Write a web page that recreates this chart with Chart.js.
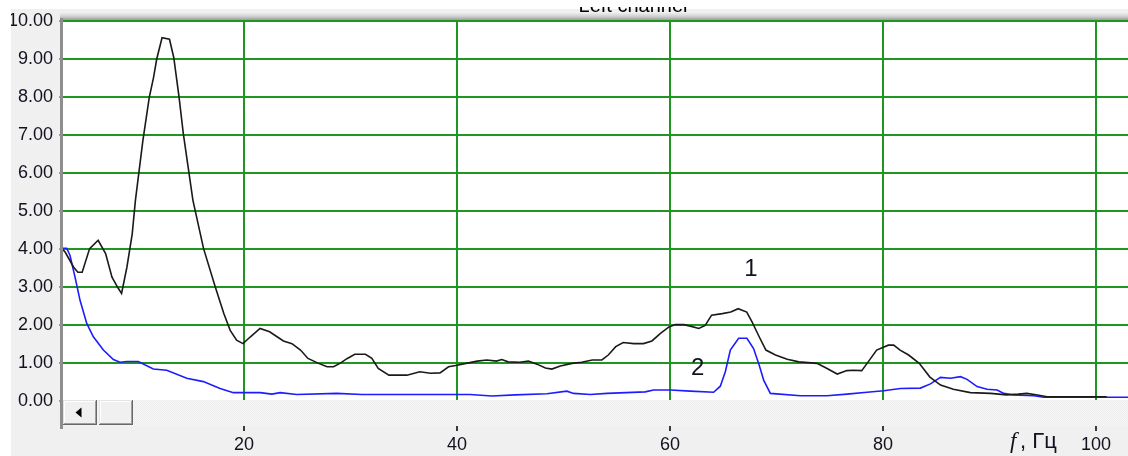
<!DOCTYPE html>
<html>
<head>
<meta charset="utf-8">
<script src="https://cdn.jsdelivr.net/npm/chart.js@4/dist/chart.umd.min.js"></script>
<style>
  html, body { margin: 0; padding: 0; background: #ffffff; overflow: hidden; }
  canvas { display: block; }
</style>
</head>
<body>
<canvas id="spectrum" width="1128" height="456"></canvas>
<script>
// Amplitude spectrum, [frequency Hz, amplitude] pairs
const series1 = [
  [3.0, 3.98], [3.2, 3.92], [4.0, 3.52], [4.4, 3.39], [4.8, 3.39], [5.5, 4.01], [6.3, 4.23],
  [7.0, 3.88], [7.6, 3.26], [8.2, 2.96], [8.5, 2.83], [9.0, 3.52], [9.5, 4.40], [9.8, 5.28],
  [10.5, 6.85], [11.1, 7.99], [11.5, 8.51], [11.8, 9.00], [12.3, 9.56], [13.0, 9.52],
  [13.4, 9.04], [13.9, 7.99], [14.3, 7.03], [15.2, 5.28], [16.2, 4.01], [17.3, 3.00],
  [18.1, 2.30], [18.7, 1.86], [19.3, 1.60], [19.9, 1.51], [20.6, 1.69], [21.5, 1.91],
  [22.4, 1.82], [23.1, 1.69], [23.7, 1.58], [24.5, 1.51], [25.3, 1.34], [26.0, 1.12],
  [27.0, 0.99], [27.8, 0.90], [28.4, 0.90], [29.0, 0.99], [29.7, 1.12], [30.4, 1.23],
  [31.4, 1.23], [32.0, 1.12], [32.6, 0.86], [33.6, 0.68], [35.3, 0.68], [36.5, 0.77],
  [37.5, 0.73], [38.4, 0.74], [39.2, 0.90], [40.0, 0.94], [41.2, 1.01], [41.9, 1.05],
  [42.8, 1.08], [43.7, 1.05], [44.2, 1.09], [44.8, 1.03], [45.9, 1.02], [46.7, 1.05],
  [47.5, 0.97], [48.3, 0.87], [48.9, 0.84], [49.7, 0.92], [50.8, 0.99], [51.7, 1.02],
  [52.7, 1.08], [53.6, 1.08], [54.2, 1.21], [54.9, 1.43], [55.6, 1.54], [56.6, 1.51],
  [57.5, 1.51], [58.3, 1.58], [59.1, 1.78], [59.9, 1.95], [60.5, 2.01], [61.3, 2.01],
  [61.9, 1.97], [62.7, 1.91], [63.3, 1.99], [63.9, 2.26], [64.9, 2.30], [65.7, 2.34],
  [66.4, 2.43], [67.2, 2.34], [67.7, 2.08], [68.3, 1.73], [69.0, 1.34], [69.9, 1.21],
  [71.0, 1.10], [72.1, 1.03], [73.8, 0.99], [74.7, 0.86], [75.7, 0.71], [76.6, 0.80],
  [77.2, 0.81], [78.0, 0.80], [78.5, 0.99], [79.4, 1.34], [80.5, 1.47], [81.0, 1.47],
  [81.6, 1.34], [82.4, 1.21], [83.4, 0.99], [84.4, 0.63], [85.4, 0.42], [86.6, 0.31],
  [88.2, 0.22], [90.1, 0.20], [91.6, 0.16], [92.7, 0.18], [93.5, 0.20], [94.5, 0.16],
  [95.4, 0.11], [101.0, 0.11]
];

const series2 = [
  [3.0, 4.02], [3.35, 4.02], [3.66, 3.83], [4.13, 3.26], [4.6, 2.65], [5.23, 2.04],
  [5.85, 1.69], [6.79, 1.34], [7.73, 1.09], [8.35, 1.02], [8.98, 1.04], [10.07, 1.04],
  [11.48, 0.84], [12.74, 0.81], [14.62, 0.60], [16.18, 0.51], [17.75, 0.33], [19.0, 0.22],
  [21.51, 0.22], [22.61, 0.18], [23.39, 0.22], [24.95, 0.17], [28.71, 0.20], [31.06, 0.17],
  [41.23, 0.17], [43.27, 0.13], [45.46, 0.16], [48.44, 0.19], [50.31, 0.26], [50.94, 0.20],
  [52.51, 0.17], [54.08, 0.20], [57.67, 0.24], [58.45, 0.29], [60.02, 0.29], [61.9, 0.26],
  [64.09, 0.23], [64.72, 0.39], [65.19, 0.77], [65.66, 1.34], [66.44, 1.65], [67.22, 1.65],
  [67.84, 1.38], [68.32, 0.99], [68.79, 0.55], [69.42, 0.20], [72.24, 0.14], [74.74, 0.14],
  [76.62, 0.18], [78.5, 0.23], [80.06, 0.27], [81.63, 0.33], [83.51, 0.34], [84.45, 0.45],
  [85.39, 0.62], [86.33, 0.60], [87.27, 0.64], [87.89, 0.57], [88.83, 0.38], [89.77, 0.31],
  [90.71, 0.29], [91.33, 0.20], [92.27, 0.16], [94.15, 0.14], [95.09, 0.10], [103.0, 0.10]
];

const xTicks = [20, 40, 60, 80, 100];
const yTicks = [0, 1, 2, 3, 4, 5, 6, 7, 8, 9, 10];
const seriesNames = ['1', '2'];
const seriesNameAt = [[67.6, 3.46], [62.6, 0.87]];
const panelTitle = 'Left channel';
const axisSymbol = 'f';
const axisUnit = ', Гц';

const FONT = "'Liberation Sans', Arial, sans-serif";
const TEXT = '#12121f';
const GRID = '#1f961f';

// track texture for the scroll bar
const trackPattern = (() => {
  const c = document.createElement('canvas');
  c.width = 2; c.height = 2;
  const g = c.getContext('2d');
  g.fillStyle = '#f9f9f9'; g.fillRect(0, 0, 2, 2);
  g.fillStyle = '#ebebeb'; g.fillRect(0, 0, 1, 1); g.fillRect(1, 1, 1, 1);
  return c;
})();

function drawButton(ctx, x, y, w, h) {
  ctx.fillStyle = '#f0f0f0'; ctx.fillRect(x, y, w, h);
  ctx.fillStyle = '#e3e3e3'; ctx.fillRect(x, y, w, 1); ctx.fillRect(x, y, 1, h);
  ctx.fillStyle = '#ffffff'; ctx.fillRect(x + 1, y + 1, w - 2, 1); ctx.fillRect(x + 1, y + 1, 1, h - 2);
  ctx.fillStyle = '#a0a0a0'; ctx.fillRect(x + 1, y + h - 2, w - 2, 1); ctx.fillRect(x + w - 2, y + 1, 1, h - 2);
  ctx.fillStyle = '#696969'; ctx.fillRect(x, y + h - 1, w, 1); ctx.fillRect(x + w - 1, y, 1, h);
}

const framePlugin = {
  id: 'frame',
  beforeDraw(chart) {
    const { ctx, chartArea: a, width, height } = chart;
    ctx.save();
    ctx.fillStyle = '#ffffff';
    ctx.fillRect(0, 0, width, height);
    ctx.fillStyle = '#f0f0f0';
    ctx.fillRect(11, 9, width - 11, height - 9);
    const g = ctx.createLinearGradient(0, 13, 0, 20);
    g.addColorStop(0, '#ececec');
    g.addColorStop(0.5, '#cfcfcf');
    g.addColorStop(1, '#9c9c9c');
    ctx.fillStyle = g;
    ctx.fillRect(60, 13, width - 60, 7);
    ctx.fillStyle = '#ffffff';
    ctx.fillRect(a.left, a.top - 1, a.right - a.left, a.bottom - a.top + 1);
    ctx.restore();
  },
  afterDraw(chart) {
    const { ctx, chartArea: a, width, height } = chart;
    const xs = chart.scales.x, ys = chart.scales.y;
    ctx.save();

    // horizontal scroll bar under the plot
    const sTop = a.bottom - 1, sH = 26;
    ctx.fillStyle = ctx.createPattern(trackPattern, 'repeat');
    ctx.fillRect(a.left, sTop, width - a.left, sH);
    drawButton(ctx, a.left, sTop, 34, sH - 1);
    drawButton(ctx, a.left + 36, sTop, 34, sH - 1);
    ctx.fillStyle = '#000000';
    ctx.beginPath();
    ctx.moveTo(a.left + 12.5, sTop + 12.5);
    ctx.lineTo(a.left + 18.5, sTop + 7.5);
    ctx.lineTo(a.left + 18.5, sTop + 17.5);
    ctx.closePath();
    ctx.fill();

    // vertical axis line
    ctx.fillStyle = '#8e8e8e';
    ctx.fillRect(60, 18, 3, 411);

    // left margin
    ctx.fillStyle = '#ffffff';
    ctx.fillRect(0, 0, 11, height);

    // panel title, partly hidden by the window edge
    ctx.save();
    ctx.beginPath();
    ctx.rect(0, 7, width, 7);
    ctx.clip();
    ctx.fillStyle = '#000000';
    ctx.font = `20px ${FONT}`;
    ctx.textAlign = 'center';
    ctx.textBaseline = 'alphabetic';
    ctx.fillText(panelTitle, 633, 12);
    ctx.restore();

    // frequency axis caption
    ctx.fillStyle = TEXT;
    ctx.textBaseline = 'alphabetic';
    ctx.textAlign = 'left';
    ctx.font = `italic 23px 'Liberation Serif', serif`;
    ctx.fillText(axisSymbol, 1010, 448);
    ctx.font = `22px ${FONT}`;
    ctx.fillText(axisUnit, 1020, 448);

    // curve numbers
    ctx.font = `24px ${FONT}`;
    ctx.textAlign = 'center';
    ctx.textBaseline = 'middle';
    seriesNames.forEach((name, i) => {
      const [fx, fy] = seriesNameAt[i];
      ctx.fillText(name, xs.getPixelForValue(fx), ys.getPixelForValue(fy));
    });

    ctx.restore();
  }
};

new Chart(document.getElementById('spectrum'), {
  type: 'line',
  data: {
    datasets: [
      {
        label: seriesNames[1],
        data: series2.map(([x, y]) => ({ x, y })),
        borderColor: '#1c1cff',
        borderWidth: 1.6,
        pointRadius: 0,
        tension: 0,
        order: 2
      },
      {
        label: seriesNames[0],
        data: series1.map(([x, y]) => ({ x, y })),
        borderColor: '#1a1a1a',
        borderWidth: 1.6,
        pointRadius: 0,
        tension: 0,
        order: 1
      }
    ]
  },
  options: {
    responsive: false,
    animation: false,
    devicePixelRatio: 1,
    layout: { padding: { top: 21, left: 0, right: 0, bottom: 0 } },
    plugins: {
      legend: { display: false },
      tooltip: { enabled: false },
      title: { display: false }
    },
    scales: {
      x: {
        type: 'linear',
        min: 3,
        max: 103,
        afterBuildTicks: (s) => { s.ticks = xTicks.map(v => ({ value: v })); },
        afterFit: (s) => { s.height = 55; },
        border: { display: false },
        grid: {
          color: GRID,
          lineWidth: 2,
          drawTicks: true,
          tickLength: 30,
          tickColor: '#3a3a3a',
          tickWidth: 2
        },
        ticks: {
          color: TEXT,
          padding: 3,
          maxRotation: 0,
          autoSkip: false,
          font: { family: FONT, size: 18 },
          callback: (v) => String(v)
        }
      },
      y: {
        type: 'linear',
        min: 0,
        max: 10,
        afterBuildTicks: (s) => { s.ticks = yTicks.map(v => ({ value: v })); },
        afterFit: (s) => { s.width = 63; },
        border: { display: false },
        grid: {
          color: GRID,
          lineWidth: 2,
          drawTicks: true,
          tickLength: 4,
          tickColor: '#4a4a4a',
          tickWidth: 1
        },
        ticks: {
          color: TEXT,
          padding: 6,
          autoSkip: false,
          font: { family: FONT, size: 18 },
          callback: (v) => Number(v).toFixed(2)
        }
      }
    }
  },
  plugins: [framePlugin]
});
</script>
</body>
</html>
